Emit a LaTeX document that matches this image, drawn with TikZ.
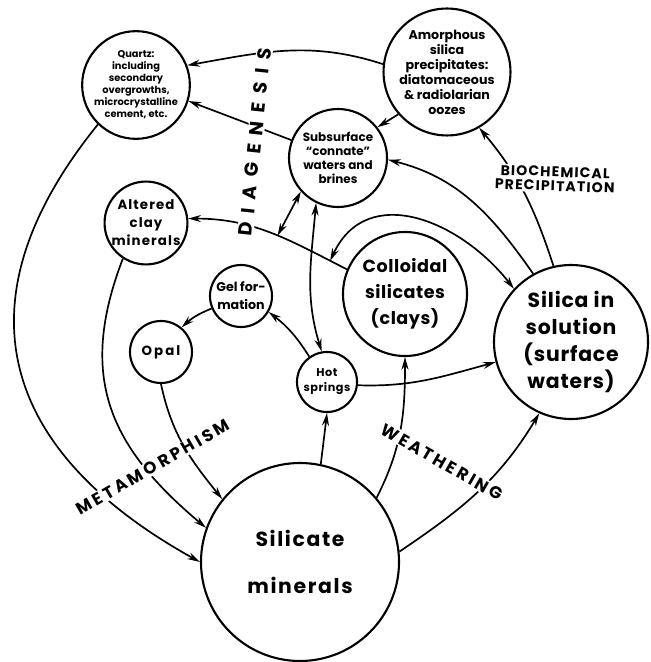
\documentclass[tikz,border=0pt]{standalone}
\usepackage{fontspec}
\setmainfont{Poppins}
\usetikzlibrary{arrows.meta}

\tikzset{
  circulo/.style={circle, draw, line width=1.5pt, inner sep=0pt, align=center},
  rotulo/.style={fill=white, inner sep=1pt, font=\bfseries\fontsize{#1}{#1}\selectfont}
}

\begin{document}
\begin{tikzpicture}[->, >={Stealth[length=9pt,width=5pt]}, line width=1.2pt, x=0.25mm, y=-0.25mm]
\useasboundingbox (0,0) rectangle (650,662);
% Nodos
\node [circulo, minimum size=25.5mm, font=\bfseries\fontsize{7}{8.5}\selectfont] (quartz) at (136,85) {Quartz:\\including\\secondary\\overgrowths,\\microcrystalline\\cement, etc.};
\node [circulo, minimum size=31.5mm, font=\bfseries\fontsize{9}{10.7}\selectfont] (amorf) at (447,72) {Amorphous\\silica\\precipitates:\\diatomaceous\\\& radiolarian\\oozes};
\node [circulo, minimum size=24.5mm, font=\bfseries\fontsize{8.5}{10}\selectfont] (subsup) at (338,158) {Subsurface\\``connate''\\waters and\\brines};
\node [circulo, minimum size=20.5mm, font=\bfseries\fontsize{9.5}{12.8}\selectfont\addfontfeature{LetterSpace=8}] (clay) at (146,223) {Altered\\clay\\minerals};
\node [circulo, minimum size=15.5mm, font=\bfseries\fontsize{9}{12.8}\selectfont] (gel) at (241,296) {Gel for-\\mation};
\node [circulo, minimum size=15.5mm, font=\bfseries\fontsize{9.5}{12}\selectfont\addfontfeature{LetterSpace=15}] (opal) at (161,352) {Opal};
\node [circulo, minimum size=15mm, font=\bfseries\fontsize{8}{10.7}\selectfont\addfontfeature{LetterSpace=5}] (hot) at (327,382) {Hot\\springs};
\node [circulo, minimum size=31mm, font=\bfseries\fontsize{12.5}{18.5}\selectfont\addfontfeature{LetterSpace=3}] (colloid) at (405,294) {Colloidal\\silicates\\(clays)};
\node [circulo, minimum size=38.5mm, font=\bfseries\fontsize{14.5}{19}\selectfont\addfontfeature{LetterSpace=4}] (silsol) at (571,342) {Silica in\\solution\\(surface\\waters)};
\node [circulo, minimum size=49.5mm, font=\bfseries\fontsize{14.5}{33}\selectfont\addfontfeature{LetterSpace=8}] (silmin) at (300,562) {Silicate\\minerals};
% Ejes
% ---
% diagenesis
% ---
\path (amorf.173) edge [out=162, in=10] (quartz.21);
\path (subsup.159) edge (quartz.-17);
\path (amorf.221) edge (subsup.38);
\path (silsol.119) edge [out=125, in=-14] (subsup.-2);
\path (silsol.103) edge [out=108, in=-50] (amorf.-60);
\draw (colloid.157) to [out=153, in=0] coordinate [pos=0.1] (dia2) coordinate [pos=0.45] (dia1) (clay.6);
\path (subsup.222) edge [<->] (dia1);
\path (subsup.-116) edge [<->, out=-95, in=107] (hot.100);
\path (dia2) edge [<->, out=65, in=128, looseness=1.2] (silsol.137);
% ---
% hot springs
% ---
\path (hot.125) edge [bend right=10] (gel.-30);
\path (gel.203) edge [bend right=10] (opal.50);
\path (hot.-6) edge [out=-2, in=195] (silsol.195);
% ---
% weathering
% ---
\path (silmin.78) edge (hot.-90);
\path (silmin.40) edge [out=63, in=-90] (colloid.-90);
\path (silmin.6) edge [out=34, in=239] (silsol.246);
% ---
% metamorphism
% ---
\path (quartz.226) edge [out=231, in=151, looseness=1.3] (silmin.180);
\path (clay.237) edge [out=249, in=140, looseness=1.15] (silmin.160);
\path (opal.-90) edge [out=-78, in=129] (silmin.141);
% Rotulos
\node [rotulo=13.5, rotate=84] (diag) at (255,142) {\addfontfeature{LetterSpace=45}DIAGENESIS};
\node [rotulo=12, rotate=30] (meta) at (153,467) {\addfontfeature{LetterSpace=18}METAMORPHISM};
\node [rotulo=12, rotate=-30] (weath) at (442,462) {\addfontfeature{LetterSpace=16}WEATHERING};
\node [rotulo=10, rotate=-2, align=center] (bio) at (555,179) {\addfontfeature{LetterSpace=8}BIOCHEMICAL\\\addfontfeature{LetterSpace=8}PRECIPITATION};
\end{tikzpicture}
\end{document}
